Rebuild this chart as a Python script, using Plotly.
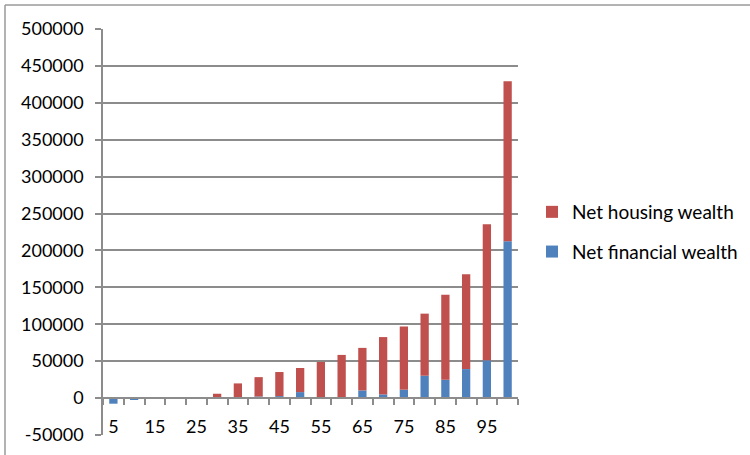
import plotly.graph_objects as go

percentiles = [5, 10, 15, 20, 25, 30, 35, 40, 45, 50, 55, 60, 65, 70, 75, 80, 85, 90, 95, 100]
net_financial = [-7600, -1500, 0, 0, 0, 0, 0, 2200, 2700, 8100, 400, 800, 10400, 5000, 11400, 30300, 24900, 39300, 51100, 212300]
net_total = [-7600, -1500, 0, 0, 0, 5900, 19900, 28400, 35300, 40800, 49000, 58500, 68000, 82650, 97000, 114400, 140100, 167600, 235400, 429100]
net_housing = [max(t - f, 0) if t > 0 else 0 for t, f in zip(net_total, net_financial)]
x_tick_labels = ["5", "15", "25", "35", "45", "55", "65", "75", "85", "95"]
x_tick_vals = [5, 15, 25, 35, 45, 55, 65, 75, 85, 95]
y_tick_vals = [-50000, 0, 50000, 100000, 150000, 200000, 250000, 300000, 350000, 400000, 450000, 500000]
y_tick_labels = ["-50000", "0", "50000", "100000", "150000", "200000", "250000",
                 "300000", "350000", "400000", "450000", "500000"]

GRID = "#8c8c8c"
FONT = "Lato"

fig = go.Figure()
fig.add_trace(go.Bar(x=percentiles, y=net_financial, name="Net financial wealth",
                     marker=dict(color="#4F81BD", line=dict(width=0)), width=2.0,
                     legendgroup="a", legendrank=2))
fig.add_trace(go.Bar(x=percentiles, y=net_housing, name="Net housing wealth",
                     marker=dict(color="#C0504D", line=dict(width=0)), width=2.0,
                     legendgroup="b", legendrank=1))

L, R, T, B = 103, 232, 29, 20
W, H = 750, 455
pw, ph = W - L - R, H - T - B

def px2x(p):
    return (p - L) / pw

def py2y(p):
    return (H - B - p) / ph

fig.update_layout(
    width=W, height=H,
    margin=dict(l=L, r=R, t=T, b=B, pad=0, autoexpand=False),
    barmode="relative",
    paper_bgcolor="white", plot_bgcolor="white",
    font=dict(family=FONT, size=18, color="#000000"),
    showlegend=True,
    legend=dict(x=px2x(532), y=py2y(232), xanchor="left", yanchor="middle",
                traceorder="grouped", tracegroupgap=12,
                font=dict(family=FONT, size=19), bgcolor="rgba(0,0,0,0)"),
    xaxis=dict(
        range=[2.5, 102.5], anchor="free", position=50000 / 550000,
        showgrid=False, zeroline=False, showline=True, linecolor=GRID, linewidth=1.5,
        tickmode="array", tickvals=x_tick_vals, ticktext=x_tick_labels, ticks="",
        ticklabelstandoff=13,
        minor=dict(tickmode="array", tickvals=[p - 2.5 for p in percentiles] + [102.5],
                   ticks="outside", ticklen=6, tickcolor=GRID, tickwidth=1.5, showgrid=False),
        tickfont=dict(family=FONT, size=18),
    ),
    yaxis=dict(
        range=[-50000, 500000], tickmode="array", tickvals=y_tick_vals, ticktext=y_tick_labels,
        showgrid=True, gridcolor=GRID, gridwidth=1.5, zeroline=False,
        showline=True, linecolor=GRID, linewidth=1.5,
        ticks="outside", ticklen=6, tickcolor=GRID, tickwidth=1.5,
        ticklabelstandoff=8,
        tickfont=dict(family=FONT, size=18),
    ),
    shapes=[
        dict(type="line", xref="paper", yref="paper", x0=px2x(5), x1=px2x(760),
             y0=py2y(5), y1=py2y(5), line=dict(color="#9a9a9a", width=1.5)),
        dict(type="line", xref="paper", yref="paper", x0=px2x(5), x1=px2x(5),
             y0=py2y(5), y1=py2y(470), line=dict(color="#9a9a9a", width=1.5)),
    ],
)

fig.write_html("out.html")
